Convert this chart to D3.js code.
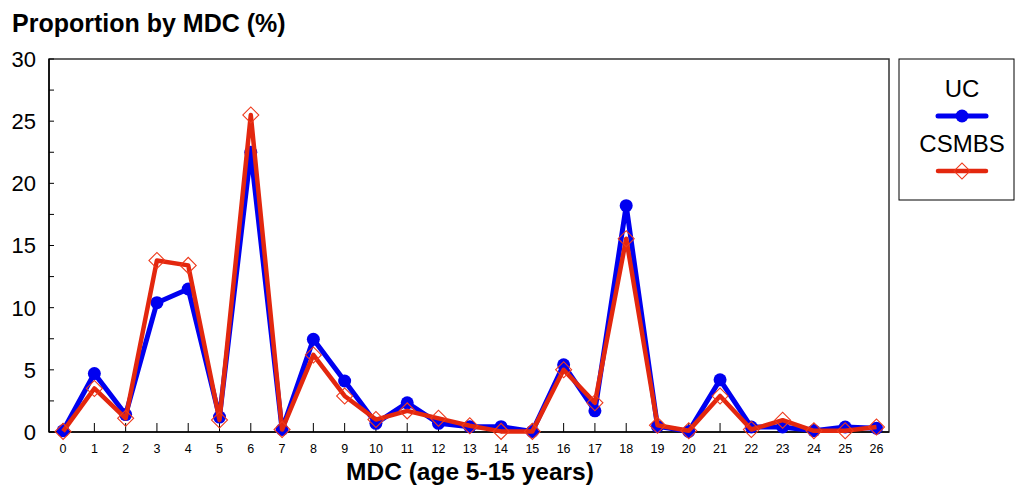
<!DOCTYPE html>
<html>
<head>
<meta charset="utf-8">
<script src="https://cdn.jsdelivr.net/npm/d3@7"></script>
<style>
  body { margin: 0; background: #fff; }
  svg { font-family: "Liberation Sans", Arial, sans-serif; }
</style>
</head>
<body>
<svg id="chart" width="1015" height="488"></svg>
<script>
const mdc = d3.range(0, 27)
const uc = [0.1, 4.7, 1.4, 10.4, 11.5, 1.2, 22.5, 0.2, 7.45, 4.1, 0.7, 2.35, 0.7, 0.43,
  0.43, 0.05, 5.4, 1.7, 18.2, 0.45, 0.05, 4.2, 0.4, 0.4, 0.1, 0.4, 0.3]
const csmbs = [0.05, 3.5, 1.1, 13.8, 13.4, 0.96, 25.5, 0.2, 6.2, 2.9, 1.0, 1.7, 1.1, 0.5,
  0.05, 0.05, 5.0, 2.35, 15.55, 0.55, 0.1, 2.9, 0.2, 0.95, 0.1, 0.1, 0.4]
const yTicks = [0, 5, 10, 15, 20, 25, 30]
const yMinor = d3.range(0, 30.1, 2.5)

const svg = d3.select('#chart')
const margin = {top: 59, right: 126, bottom: 56, left: 49}
const width = +svg.attr('width'), height = +svg.attr('height')
const innerW = width - margin.left - margin.right
const innerH = height - margin.top - margin.bottom

const blue = '#0000f0', red = '#e3270e'

const g = svg.append('g').attr('transform', `translate(${margin.left},${margin.top})`)

const x = d3.scaleLinear().domain([-0.45, 26.4]).range([0, innerW])
const y = d3.scaleLinear().domain([0, 30]).range([innerH, 0])

// frame
g.append('rect').attr('width', innerW).attr('height', innerH)
  .attr('fill', 'none').attr('stroke', '#333').attr('stroke-width', 1.5)

// y axis: inward ticks, labels outside
const yAxis = g.append('g')
yAxis.selectAll('line.minor').data(yMinor).join('line')
  .attr('x1', 0).attr('x2', 5).attr('y1', d => y(d)).attr('y2', d => y(d))
  .attr('stroke', '#000')
yAxis.selectAll('text').data(yTicks).join('text')
  .attr('x', -13).attr('y', d => y(d)).attr('dy', '0.36em')
  .attr('text-anchor', 'end').attr('font-size', 22).text(d => d)
yAxis.append('line').attr('y1', 0).attr('y2', innerH).attr('stroke', '#000').attr('stroke-width', 1.5)

// x axis
const xAxis = g.append('g').attr('transform', `translate(0,${innerH})`)
xAxis.selectAll('line').data(mdc).join('line')
  .attr('x1', d => x(d)).attr('x2', d => x(d)).attr('y1', 0).attr('y2', -9)
  .attr('stroke', '#000')
xAxis.selectAll('text').data(mdc).join('text')
  .attr('x', d => x(d)).attr('y', 21).attr('text-anchor', 'middle')
  .attr('font-size', 12.5).text(d => d)
xAxis.append('line').attr('x1', 0).attr('x2', innerW).attr('stroke', '#000').attr('stroke-width', 1.5)

// series
const line = d3.line().x((d, i) => x(mdc[i])).y(d => y(d))
const diamond = d3.symbol().type(d3.symbolSquare).size(128)

g.append('path').datum(uc).attr('d', line)
  .attr('fill', 'none').attr('stroke', blue).attr('stroke-width', 5).attr('stroke-linejoin', 'round')
g.selectAll('circle.uc').data(uc).join('circle').attr('class', 'uc')
  .attr('cx', (d, i) => x(mdc[i])).attr('cy', d => y(d)).attr('r', 6.5).attr('fill', blue)

g.append('path').datum(csmbs).attr('d', line)
  .attr('fill', 'none').attr('stroke', red).attr('stroke-width', 4.5).attr('stroke-linejoin', 'round')
g.selectAll('path.cs').data(csmbs).join('path').attr('class', 'cs')
  .attr('transform', (d, i) => `translate(${x(mdc[i])},${y(d)}) rotate(45)`)
  .attr('d', diamond)
  .attr('fill', 'none').attr('stroke', '#ee3a1c').attr('stroke-width', 1.1)

// titles
svg.append('text').attr('x', 12).attr('y', 32).attr('font-size', 25).attr('font-weight', 'bold')
  .text('Proportion by MDC (%)')
svg.append('text').attr('x', margin.left + innerW / 2 + 1).attr('y', 480).attr('text-anchor', 'middle')
  .attr('font-size', 24.5).attr('font-weight', 'bold').text('MDC (age 5-15 years)')

// legend
const lg = svg.append('g').attr('transform', 'translate(899,59)')
lg.append('rect').attr('width', 115).attr('height', 141).attr('fill', '#fff').attr('stroke', '#000')
const items = [{name: 'UC', color: blue}, {name: 'CSMBS', color: red}]
items.forEach((it, i) => {
  const ty = 38 + i * 55
  lg.append('text').attr('x', 63).attr('y', ty).attr('text-anchor', 'middle')
    .attr('font-size', 24).text(it.name)
  lg.append('line').attr('x1', 39).attr('x2', 87).attr('y1', ty + 19).attr('y2', ty + 19)
    .attr('stroke', it.color).attr('stroke-width', i ? 4.5 : 5).attr('stroke-linecap', 'round')
  if (i === 0) {
    lg.append('circle').attr('cx', 63).attr('cy', ty + 19).attr('r', 6.5).attr('fill', blue)
  } else {
    lg.append('path').attr('transform', `translate(63,${ty + 19}) rotate(45)`)
      .attr('d', diamond)
      .attr('fill', 'none').attr('stroke', '#ee3a1c').attr('stroke-width', 1.1)
  }
})
</script>
</body>
</html>
